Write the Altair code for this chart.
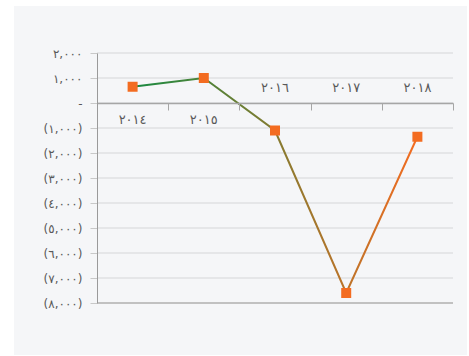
import altair as alt
import pandas as pd

# ---- data ----
years = ["٢٠١٤", "٢٠١٥", "٢٠١٦", "٢٠١٧", "٢٠١٨"]
values = [650, 1000, -1100, -7600, -1350]
y_ticks = [2000, 1000, 0, -1000, -2000, -3000, -4000, -5000, -6000, -7000, -8000]
y_tick_labels = ["٢,٠٠٠", "١,٠٠٠", "-", "(١,٠٠٠)", "(٢,٠٠٠)", "(٣,٠٠٠)",
                 "(٤,٠٠٠)", "(٥,٠٠٠)", "(٦,٠٠٠)", "(٧,٠٠٠)", "(٨,٠٠٠)"]

W, H = 356, 250
Y_MIN, Y_MAX = min(y_ticks), max(y_ticks)
FONT = "DejaVu Sans"
TXT = "#595959"

df = pd.DataFrame({"year": years, "value": values})
df["pos"] = df["value"] >= 0
grid_df = pd.DataFrame({"value": y_ticks})

label_expr = " : ".join(
    f"datum.value == {v} ? '{l}'" for v, l in zip(y_ticks, y_tick_labels)
) + " : ''"

y_scale = alt.Scale(domain=[Y_MIN, Y_MAX], nice=False, zero=False)
zero_px = H * Y_MAX / (Y_MAX - Y_MIN)

x_enc = alt.X(
    "year:N", sort=years, bandPosition=0.5,
    scale=alt.Scale(type="band", domain=years, paddingInner=0, paddingOuter=0),
    axis=alt.Axis(orient="bottom", offset=-(H - zero_px), labels=False, title=None,
                  grid=False, domainColor="#a6a6a6", domainWidth=1.5,
                  ticks=True, tickBand="extent", tickSize=7, tickColor="#a6a6a6",
                  tickWidth=1, zindex=1),
)
y_axis = alt.Axis(values=y_ticks, labelExpr=label_expr, title=None, grid=False,
                  domainColor="#9a9a9a", domainWidth=1, tickColor="#c8c8c8",
                  tickSize=7, labelPadding=8, labelFont=FONT, labelFontSize=12,
                  labelColor=TXT, zindex=1)
y_enc = alt.Y("value:Q", scale=y_scale, axis=y_axis)

bg = alt.Chart(alt.Data(values=[{}])).mark_rect(color="#f5f6f8").encode(
    x=alt.value(-83), x2=alt.value(W + 14), y=alt.value(-47), y2=alt.value(H + 52)
)

grid = alt.Chart(grid_df).mark_rule(color="#dfe0e3", strokeWidth=1.5).encode(y=y_enc)

bottom = alt.Chart(alt.Data(values=[{}])).mark_rule(color="#b5b5b5", strokeWidth=1.5).encode(
    y=alt.Y(datum=Y_MIN, scale=y_scale, axis=y_axis)
)

base = alt.Chart(df)

line = base.mark_line(
    strokeWidth=2,
    color=alt.Gradient(
        gradient="linear",
        stops=[alt.GradientStop(color="#178a41", offset=0),
               alt.GradientStop(color="#f36c21", offset=1)],
        x1=0, x2=1, y1=0, y2=0,
    ),
).encode(x=x_enc, y=y_enc)

pts = base.mark_square(size=100, color="#f36c21", opacity=1).encode(x=x_enc, y=y_enc)

lab_below = base.transform_filter("datum.pos").mark_text(
    font=FONT, fontSize=13, color=TXT, baseline="middle", dy=17
).encode(x=x_enc, y=alt.Y(datum=0, scale=y_scale, axis=y_axis), text="year:N")

lab_above = base.transform_filter("!datum.pos").mark_text(
    font=FONT, fontSize=13, color=TXT, baseline="middle", dy=-15
).encode(x=x_enc, y=alt.Y(datum=0, scale=y_scale, axis=y_axis), text="year:N")

chart = alt.layer(bg, grid, bottom, line, pts, lab_below, lab_above).properties(
    width=W, height=H,
    autosize=alt.AutoSizeParams(type="none"),
    padding={"left": 97, "top": 53, "right": 16, "bottom": 53},
    background="white",
).configure_view(stroke=None)

chart.save("out.html", embed_options={"renderer": "svg", "actions": False})
